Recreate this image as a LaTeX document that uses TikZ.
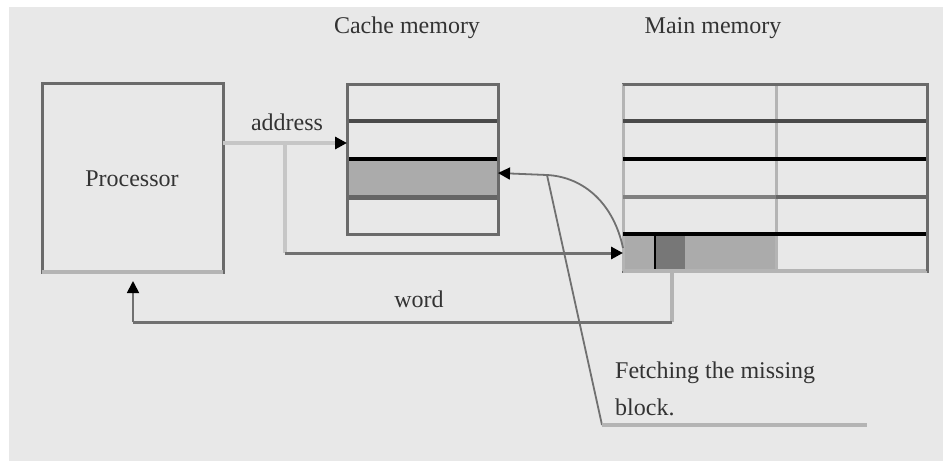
\documentclass[tikz,border=0pt]{standalone}
\usepackage{fontspec}
\setmainfont{Liberation Serif}
\usetikzlibrary{arrows.meta,calc}
\definecolor{bg}{HTML}{E8E8E8}
\definecolor{lnc}{HTML}{6A6A6A}
\definecolor{lgt}{HTML}{B4B4B4}
\definecolor{addrc}{HTML}{C6C6C6}
\definecolor{shadec}{HTML}{ABABAB}
\definecolor{dshadec}{HTML}{777777}
\definecolor{txt}{HTML}{333333}
\definecolor{rowa}{HTML}{4A4A4A}
\definecolor{rowc}{HTML}{707070}
\tikzset{
  box/.style={draw=lnc, line width=3pt, inner sep=0pt, outer sep=0pt},
  lbl/.style={font=\fontsize{24}{37}\selectfont, text=txt, inner sep=0pt, anchor=base},
  tip/.style={-{Triangle[length=12pt,width=12pt,color=black]}},
  addrline/.style={draw=addrc, line width=3.5pt},
  darkline/.style={draw=rowc, line width=3pt},
  thinline/.style={draw=rowc, line width=1.8pt},
}
\begin{document}
\begin{tikzpicture}[x=1pt,y=-1pt]
\useasboundingbox (0,0) rectangle (943,461);
\fill[white] (0,0) rectangle (943,461);
\fill[bg] (9,7) rectangle (943,461);

% titles
\node[lbl] (tcache) at (407,33) {Cache memory};
\node[lbl] (tmain) at (713,33) {Main memory};

% processor
\node[box, minimum width=181pt, minimum height=189pt] (proc) at (132.5,177.5) {};
\draw[lgt, line width=4.5pt] (proc.south west) -- (proc.south east);
\node[lbl] (ptext) at (132,186) {Processor};

% cache memory
\node[box, minimum width=151pt, minimum height=150pt] (cache) at (422.5,159) {};
\fill[shadec] (347,159) rectangle (498,197);
\draw[rowa, line width=3.5pt] (cache.west |- 0,121) -- (cache.east |- 0,121);
\draw[black, line width=3.5pt] (cache.west |- 0,159) -- (cache.east |- 0,159);
\draw[rowa!85!white, line width=5pt] (cache.west |- 0,197) -- (cache.east |- 0,197);
\draw[lnc, line width=3pt] (cache.north west) rectangle (cache.south east);

% main memory
\node[box, minimum width=304pt, minimum height=187pt] (main) at (775,177.5) {};
\fill[shadec] (623,234) rectangle (776,271);
\fill[dshadec] (655,234) rectangle (685,271);
\draw[black, line width=2.5pt] (655,234) -- (655,271);
\draw[lgt, line width=3pt] (776,84) -- (776,271);
\draw[lgt, line width=3pt] (main.north west) -- (main.south west);
\draw[lgt, line width=4pt] (main.south west) -- (main.south east);
\draw[rowa, line width=3.5pt] (main.west |- 0,121) -- (main.east |- 0,121);
\draw[black, line width=3.5pt] (main.west |- 0,159) -- (main.east |- 0,159);
\draw[gray, line width=4.5pt] (main.west |- 0,197) -- (776,197);
\draw[rowa!85!white, line width=4.5pt] (776,197) -- (main.east |- 0,197);
\draw[black, line width=3.5pt] (main.west |- 0,234) -- (main.east |- 0,234);
\draw[lnc, line width=3pt] (main.north west) -- (main.north east) -- (main.south east);

% address
\coordinate (br) at (285,143);
\draw[addrline] (proc.east |- br) -- ($(cache.west |- br)+(-10,0)$);
\draw[addrline, tip] ($(cache.west |- br)+(-20,0)$) -- (cache.west |- br);
\node[lbl] (taddr) at (287,130) {address};
\coordinate (low) at (285,253);
\draw[addrline] (br) -- (low);
\draw[darkline, tip] (low) -- (main.west |- low);

% word
\coordinate (wtop) at (672,271);
\coordinate (wbot) at (672,322);
\coordinate (wleft) at (133,322);
\draw[lgt, line width=3.5pt] (wtop) -- (wbot);
\draw[darkline] (wbot) -- (wleft);
\draw[thinline, tip] (wleft) -- (133,281);
\node[lbl] (tword) at (419,307) {word};

% fetching the missing block
\coordinate (cj) at (547,175);
\draw[thinline, tip] (main.west |- 0,248) .. controls (614,205) and (585,177) .. (cj) -- (cache.east |- 0,173);
\coordinate (pk) at (602,425);
\draw[thinline] (cj) -- (pk);
\draw[lgt, line width=4pt] (pk) -- (867,425);
\node[lbl, anchor=base west] (tfetch) at (615,378) {Fetching the missing};
\node[lbl, anchor=base west] (tblock) at (615,415) {block.};
\end{tikzpicture}
\end{document}
